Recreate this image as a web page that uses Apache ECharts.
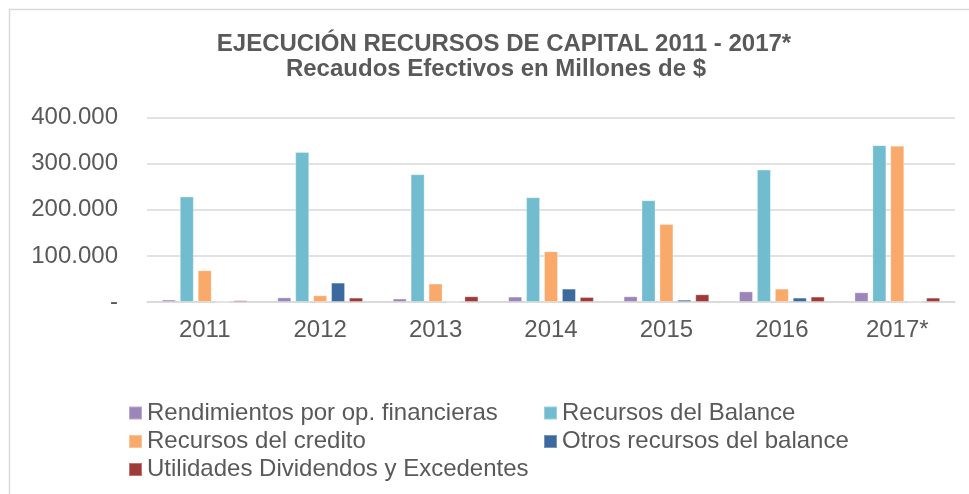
<!DOCTYPE html>
<html lang="es">
<head>
  <meta charset="UTF-8">
  <title>Recursos de capital</title>
  <style>
    html, body, #chart {
      margin: 0;
      padding: 0;
      width: 969px;
      height: 494px;
      background: #fff;
    }
  </style>
</head>
<body>
<div id="chart"></div>
<script src="https://cdn.jsdelivr.net/npm/echarts@6/dist/echarts.min.js"></script>
<script>
  // datos (millones de $)
  var years = ['2011', '2012', '2013', '2014', '2015', '2016', '2017*'];
  var rendimientos = [5200, 10000, 7400, 11700, 12400, 23000, 21000];
  var balance = [228600, 325000, 277000, 227000, 220600, 287000, 340000];
  var credito = [68800, 14500, 40000, 110000, 169000, 29000, 339000];
  var otros = [0, 42000, 0, 29000, 5000, 9500, 0];
  var utilidades = [3700, 9500, 12400, 10800, 16700, 11700, 9500];

  var names = [
    'Rendimientos por op. financieras',
    'Recursos del Balance',
    'Recursos del credito',
    'Otros recursos del balance',
    'Utilidades Dividendos y Excedentes'
  ];
  var colors = ['#9C85B8', '#72BCD0', '#F9A96A', '#3C6A9E', '#9E3A38'];
  var values = [rendimientos, balance, credito, otros, utilidades];

  var textColor = '#595959';
  var font = 'Liberation Sans, Arial, sans-serif';

  var chart = echarts.init(document.getElementById('chart'));

  // leyenda en dos columnas
  var legendPos = [[128, 401], [543, 401], [128, 429.5], [543, 429.5], [128, 457.5]];

  var legends = names.map(function (n, i) {
    return {
      data: [n],
      left: legendPos[i][0],
      top: legendPos[i][1],
      itemWidth: 13,
      itemHeight: 13,
      itemGap: 0,
      padding: 0,
      icon: 'rect',
      selectedMode: false,
      textStyle: { color: textColor, fontSize: 24, lineHeight: 24, fontFamily: font }
    };
  });

  var series = names.map(function (n, i) {
    return {
      name: n,
      type: 'bar',
      data: values[i],
      barWidth: 14,
      barGap: '28%',
      itemStyle: { color: colors[i], borderColor: 'rgba(255,255,255,0.3)', borderWidth: 1 }
    };
  });

  chart.setOption({
    animation: false,
    title: [{
      text: 'EJECUCIÓN RECURSOS DE CAPITAL 2011 - 2017*',
      left: 499, top: 27, textAlign: 'center',
      textStyle: { color: textColor, fontSize: 24, fontWeight: 'bold', fontFamily: font }
    }, {
      text: 'Recaudos Efectivos en Millones de $',
      left: 491, top: 52, textAlign: 'center',
      textStyle: { color: textColor, fontSize: 24, fontWeight: 'bold', fontFamily: font }
    }],
    legend: legends,
    graphic: [{
      type: 'rect',
      shape: { x: 9.5, y: 9.5, width: 1200, height: 1000 },
      style: { fill: 'none', stroke: '#D9D9D9', lineWidth: 1.5 },
      silent: true
    }],
    grid: { left: 147, right: 14, top: 117.5, bottom: 192 },
    xAxis: {
      type: 'category',
      data: years,
      axisLine: { lineStyle: { color: '#D9D9D9', width: 1.5 } },
      axisTick: { show: false },
      axisLabel: { color: textColor, fontSize: 24, fontFamily: font, margin: 16 }
    },
    yAxis: {
      type: 'value',
      min: 0,
      max: 400000,
      interval: 100000,
      axisLine: { show: false },
      axisTick: { show: false },
      splitLine: { lineStyle: { color: '#D9D9D9', width: 1.5 } },
      axisLabel: {
        color: textColor, fontSize: 24, fontFamily: font, margin: 29,
        formatter: function (v) {
          if (v === 0) return '-';
          return String(v).replace(/\B(?=(\d{3})+(?!\d))/g, '.');
        }
      }
    },
    series: series
  });
</script>
</body>
</html>
